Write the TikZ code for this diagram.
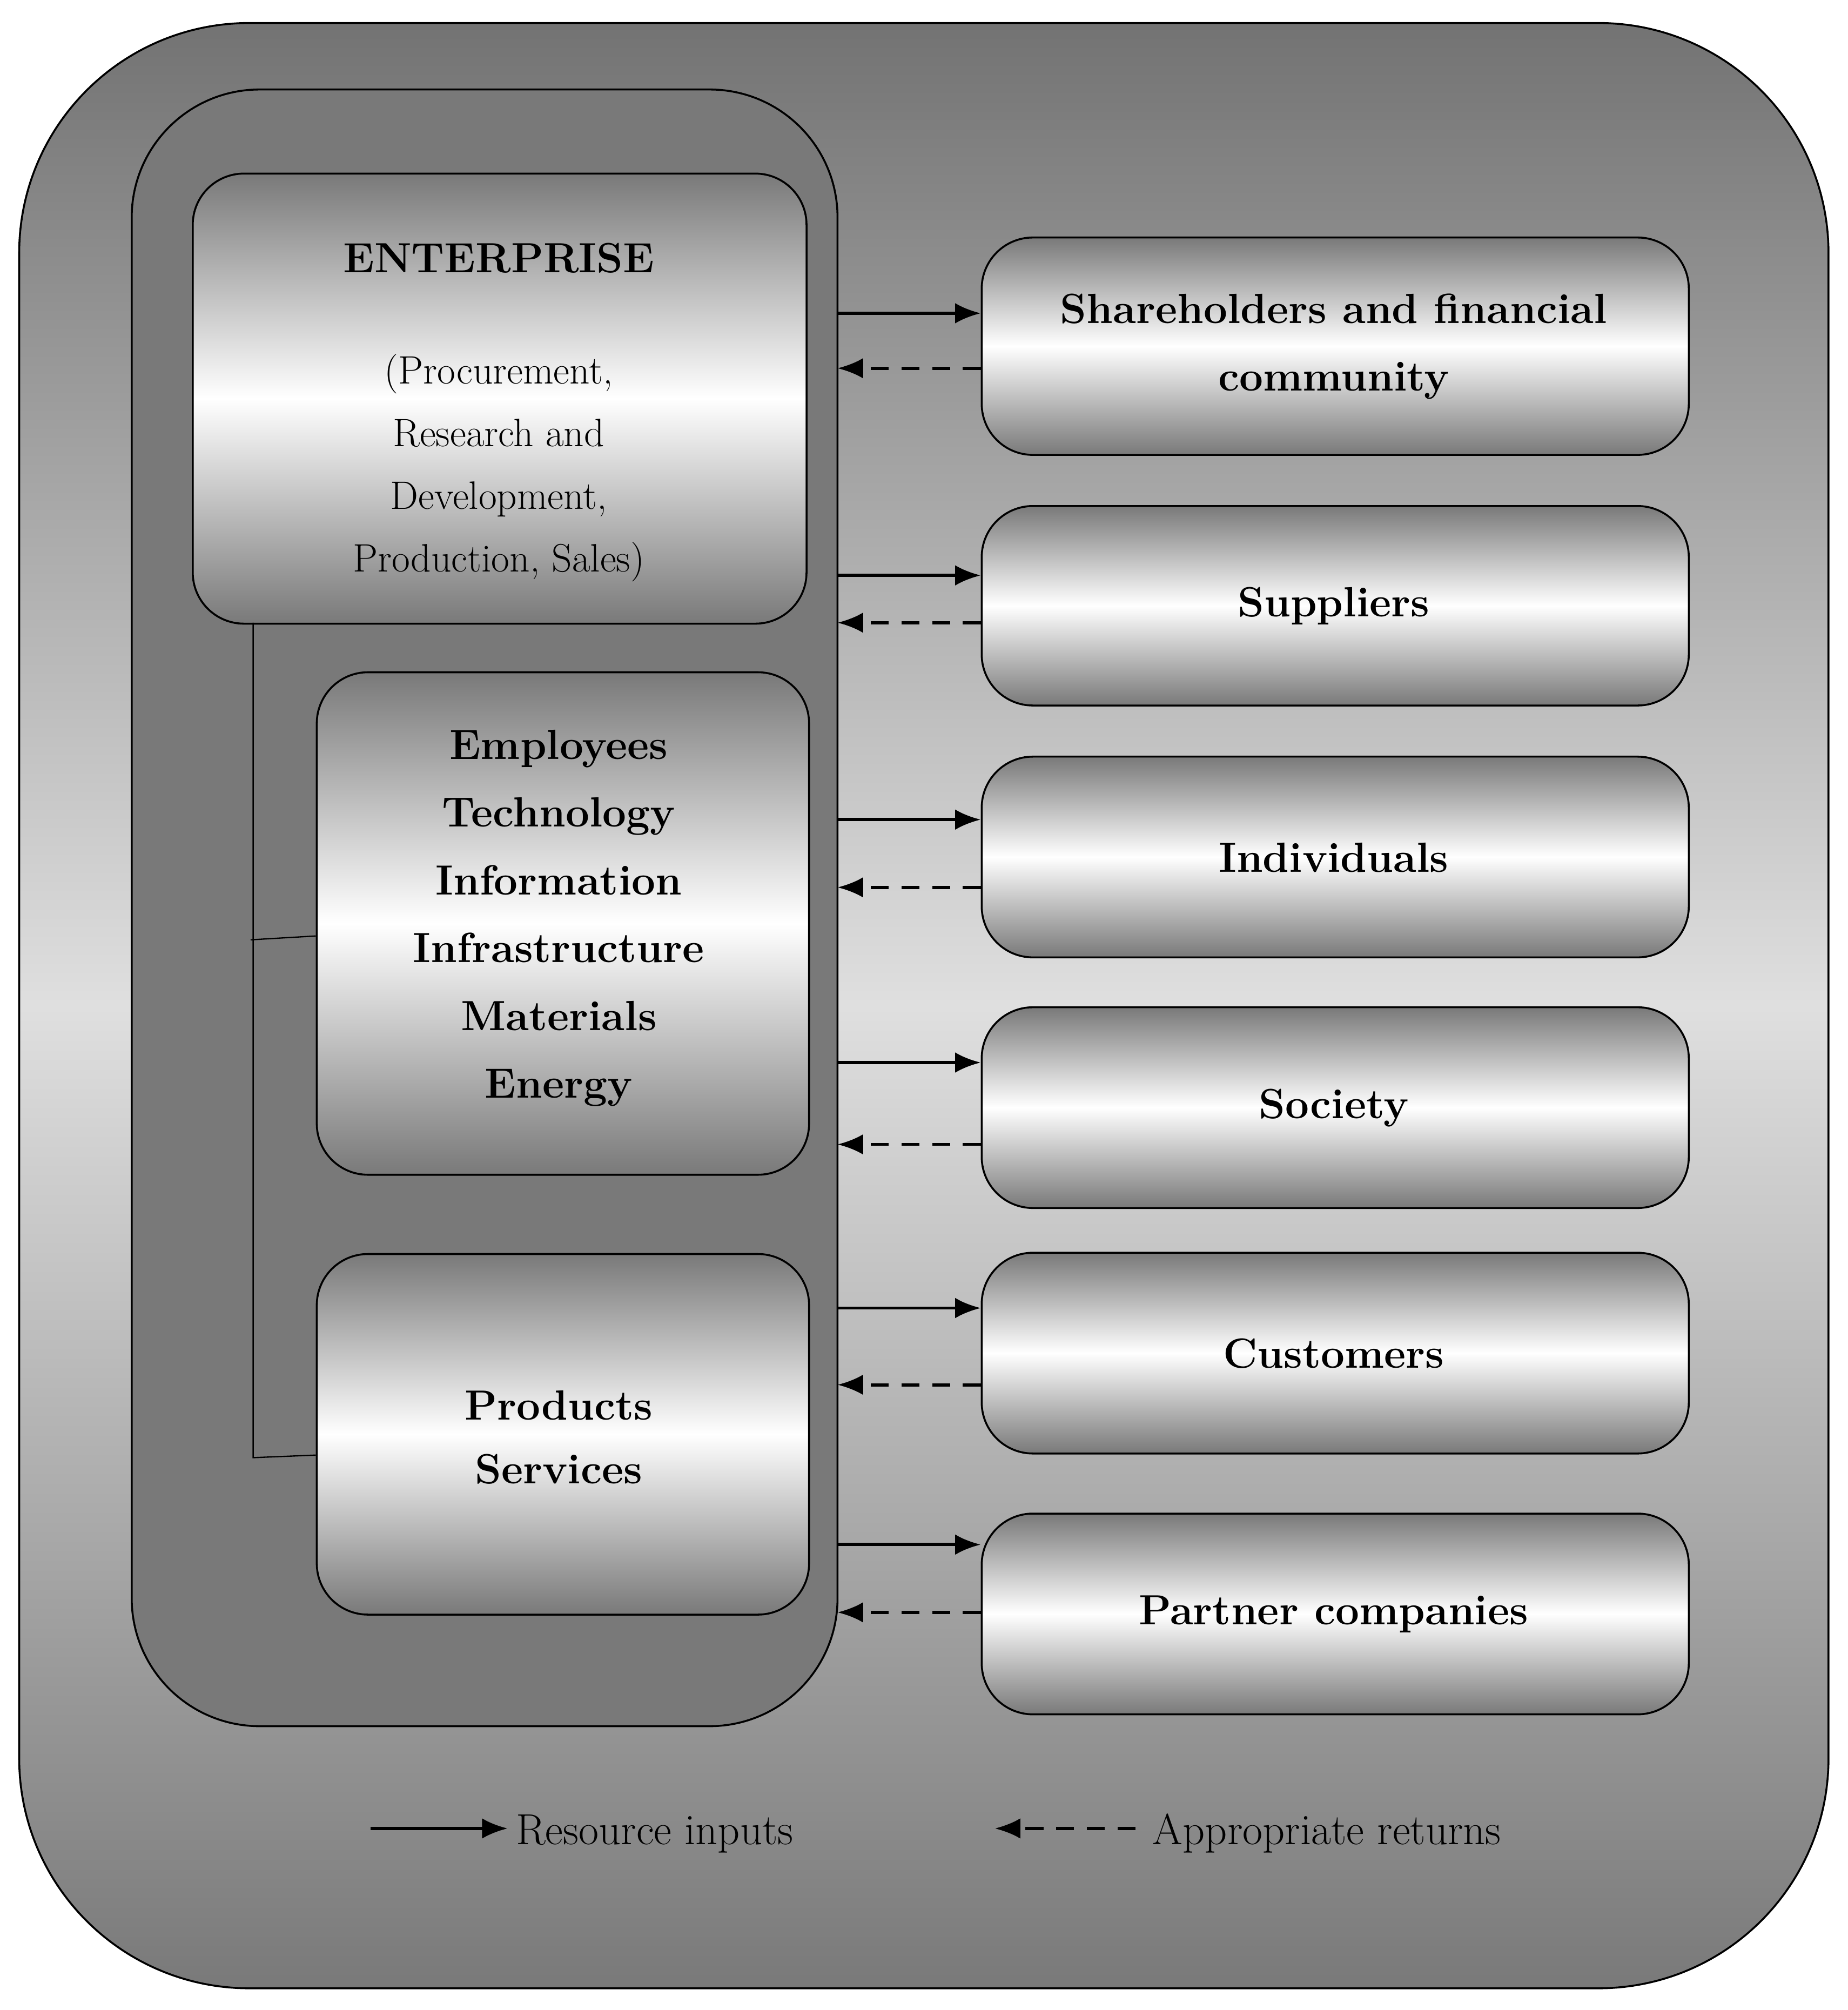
\documentclass[tikz,border=0pt]{standalone}
\usetikzlibrary{arrows.meta}
\begin{document}
\begin{tikzpicture}[x=1pt,y=-1pt,
 box/.style={draw=black,line width=1.5pt,rounded corners=40pt,top color=gray!95!black,bottom color=gray!95!black,middle color=white},
 lbl/.style={font=\fontsize{33}{53}\selectfont\bfseries,align=center},
 inarr/.style={line width=2.5pt,-{Latex[length=20pt,width=16pt]}},
 retarr/.style={line width=2.5pt,dash pattern=on 14pt off 10pt,-{Latex[length=20pt,width=16pt]}}]
\useasboundingbox (0,0) rectangle (1445,1572);
\fill[white] (0,0) rectangle (1445,1572);
\draw[line width=1.5pt,rounded corners=180pt,top color=gray!90!black,bottom color=gray!95!black,middle color=gray!25] (15,18) rectangle (1430,1555);
\draw[line width=1.5pt,rounded corners=100pt,fill=gray!95!black] (103,70) rectangle (655,1350);
\node[box,minimum width=480pt,minimum height=352pt,anchor=north west] (ent) at (150,135) {};
\node[font=\fontsize{33}{53}\selectfont\bfseries] (entt) at (390,202) {ENTERPRISE};
\node[font=\fontsize{31}{49}\selectfont,align=center] (entd) at (390,366) {(Procurement,\\Research and\\Development,\\Production, Sales)};
\node[box,minimum width=385pt,minimum height=393pt,anchor=north west,lbl] (emp) at (247,525) {};
\node[lbl] (empt) at (437,718) {Employees\\Technology\\Information\\Infrastructure\\Materials\\Energy};
\node[box,minimum width=385pt,minimum height=282pt,anchor=north west,lbl] (prod) at (247,980) {};
\node[lbl,font=\fontsize{33}{50}\selectfont\bfseries] at (437,1124) {Products\\Services};
\draw[line width=1pt] (198,487) -- (198,1140) -- (247,1138);
\draw[line width=1pt] (196,735) -- (247,732);
\foreach \n/\a/\b/\t/\ya/\yb in {s/185/355/{Shareholders and financial\\community}/245/288, u/395/551/Suppliers/450/487, i/591/748/Individuals/641/694, so/787/944/Society/831/895, c/979/1136/Customers/1023/1083, p/1183/1340/Partner companies/1208/1261}{
 \node[box,minimum width=553pt,minimum height={\b-\a},anchor=north west] (\n) at (767,\a) {};
 \node[lbl] at (1043,{(\a+\b)/2+1}) {\t};
 \coordinate (\n a) at (655,\ya); \coordinate (\n b) at (767,\ya);
 \coordinate (\n c) at (767,\yb); \coordinate (\n d) at (655,\yb);
 \draw[inarr] (\n a) -- (\n b);
 \draw[retarr] (\n c) -- (\n d);
}
\coordinate (l1) at (290,1430); \coordinate (l2) at (397,1430);
\draw[inarr] (l1) -- (l2);
\node[font=\fontsize{34}{40}\selectfont,anchor=west] (lt1) at (400,1434) {Resource inputs};
\coordinate (l3) at (888,1430); \coordinate (l4) at (778,1430);
\draw[retarr] (l3) -- (l4);
\node[font=\fontsize{34}{40}\selectfont,anchor=west] (lt2) at (898,1434) {Appropriate returns};
\end{tikzpicture}
\end{document}
